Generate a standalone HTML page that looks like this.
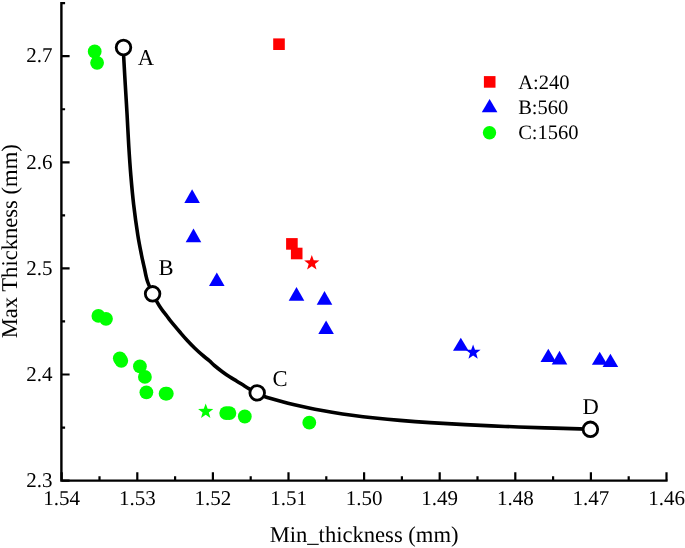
<!DOCTYPE html><html><head><meta charset="utf-8"><style>html,body{margin:0;padding:0;background:#fff;}svg{display:block;text-rendering:geometricPrecision;will-change:transform;font-family:"Liberation Serif",serif;}</style></head><body>
<svg width="685" height="548" viewBox="0 0 685 548">
<rect width="685" height="548" fill="#fff"/>
<path d="M61.4 480.60H69.6M61.4 374.50H69.6M61.4 268.40H69.6M61.4 162.30H69.6M61.4 56.20H69.6M61.4 427.55H65.1M61.4 321.45H65.1M61.4 215.35H65.1M61.4 109.25H65.1M61.4 3.15H65.1M61.70 480.6V472.2M137.30 480.6V472.2M212.90 480.6V472.2M288.50 480.6V472.2M364.10 480.6V472.2M439.70 480.6V472.2M515.30 480.6V472.2M590.90 480.6V472.2M666.50 480.6V472.2M99.50 480.6V476.3M175.10 480.6V476.3M250.70 480.6V476.3M326.30 480.6V476.3M401.90 480.6V476.3M477.50 480.6V476.3M553.10 480.6V476.3M628.70 480.6V476.3" stroke="#000" stroke-width="2.2" fill="none"/>
<path d="M61.4 2.05V480.6H667.60" stroke="#000" stroke-width="2.4" fill="none" stroke-linejoin="miter"/>
<text x="52.4" y="486.80" font-size="21" text-anchor="end">2.3</text>
<text x="52.4" y="380.70" font-size="21" text-anchor="end">2.4</text>
<text x="52.4" y="274.60" font-size="21" text-anchor="end">2.5</text>
<text x="52.4" y="168.50" font-size="21" text-anchor="end">2.6</text>
<text x="52.4" y="62.40" font-size="21" text-anchor="end">2.7</text>
<text x="61.70" y="505.4" font-size="21" text-anchor="middle">1.54</text>
<text x="137.30" y="505.4" font-size="21" text-anchor="middle">1.53</text>
<text x="212.90" y="505.4" font-size="21" text-anchor="middle">1.52</text>
<text x="288.50" y="505.4" font-size="21" text-anchor="middle">1.51</text>
<text x="364.10" y="505.4" font-size="21" text-anchor="middle">1.50</text>
<text x="439.70" y="505.4" font-size="21" text-anchor="middle">1.49</text>
<text x="515.30" y="505.4" font-size="21" text-anchor="middle">1.48</text>
<text x="590.90" y="505.4" font-size="21" text-anchor="middle">1.47</text>
<text x="666.50" y="505.4" font-size="21" text-anchor="middle">1.46</text>
<text x="364.10" y="542.2" font-size="22.6" text-anchor="middle">Min_thickness (mm)</text>
<text transform="translate(16.8 241.3) rotate(-90)" font-size="22.6" text-anchor="middle">Max Thickness (mm)</text>
<circle cx="94.7" cy="51.5" r="6.9" fill="#00ff00"/>
<circle cx="97.1" cy="62.8" r="6.9" fill="#00ff00"/>
<circle cx="98.4" cy="315.9" r="6.9" fill="#00ff00"/>
<circle cx="106" cy="318.8" r="6.9" fill="#00ff00"/>
<circle cx="119.8" cy="358.3" r="6.9" fill="#00ff00"/>
<circle cx="121.3" cy="360.8" r="6.9" fill="#00ff00"/>
<circle cx="139.9" cy="366.4" r="6.9" fill="#00ff00"/>
<circle cx="144.9" cy="376.9" r="6.9" fill="#00ff00"/>
<circle cx="146.4" cy="392.3" r="6.9" fill="#00ff00"/>
<circle cx="165.6" cy="393.7" r="6.9" fill="#00ff00"/>
<circle cx="166.8" cy="393.7" r="6.9" fill="#00ff00"/>
<circle cx="226.2" cy="413.1" r="6.9" fill="#00ff00"/>
<circle cx="229.4" cy="413.1" r="6.9" fill="#00ff00"/>
<circle cx="244.8" cy="416.5" r="6.9" fill="#00ff00"/>
<circle cx="309.3" cy="422.7" r="6.9" fill="#00ff00"/>
<polygon points="205.70,403.50 207.63,408.85 213.31,409.03 208.82,412.51 210.40,417.97 205.70,414.78 201.00,417.97 202.58,412.51 198.09,409.03 203.77,408.85" fill="#00ff00"/>
<polygon points="192.10,189.20 199.90,203.00 184.30,203.00" fill="#0000ff"/>
<polygon points="193.50,228.60 201.30,242.30 185.70,242.30" fill="#0000ff"/>
<polygon points="216.80,272.50 224.60,286.10 209.00,286.10" fill="#0000ff"/>
<polygon points="296.50,287.10 304.30,300.80 288.70,300.80" fill="#0000ff"/>
<polygon points="324.50,290.90 332.30,304.70 316.70,304.70" fill="#0000ff"/>
<polygon points="326.10,320.50 333.90,334.00 318.30,334.00" fill="#0000ff"/>
<polygon points="460.80,337.70 468.60,350.80 453.00,350.80" fill="#0000ff"/>
<polygon points="548.30,348.80 556.10,362.10 540.50,362.10" fill="#0000ff"/>
<polygon points="559.50,350.80 567.30,364.40 551.70,364.40" fill="#0000ff"/>
<polygon points="599.70,351.80 607.50,364.80 591.90,364.80" fill="#0000ff"/>
<polygon points="610.40,353.70 618.20,367.00 602.60,367.00" fill="#0000ff"/>
<polygon points="473.10,344.40 475.00,349.68 480.61,349.86 476.18,353.30 477.74,358.69 473.10,355.54 468.46,358.69 470.02,353.30 465.59,349.86 471.20,349.68" fill="#0000ff"/>
<rect x="273.20" y="38.40" width="11.6" height="11.6" fill="#ff0000"/>
<rect x="286.10" y="238.10" width="11.6" height="11.6" fill="#ff0000"/>
<rect x="290.90" y="247.70" width="11.6" height="11.6" fill="#ff0000"/>
<polygon points="311.80,255.00 313.73,260.35 319.41,260.53 314.92,264.01 316.50,269.47 311.80,266.28 307.10,269.47 308.68,264.01 304.19,260.53 309.87,260.35" fill="#ff0000"/>
<path d="M123.5 47.5C123.53 49.08 123.40 50.75 123.7 57C124.00 63.25 124.73 75.33 125.3 85C125.87 94.67 126.53 105.00 127.1 115C127.67 125.00 128.08 135.00 128.7 145C129.32 155.00 129.97 165.00 130.8 175C131.63 185.00 132.53 195.00 133.7 205C134.87 215.00 136.50 226.67 137.8 235C139.10 243.33 140.63 250.50 141.5 255C142.37 259.50 142.48 259.67 143.0 262C143.52 264.33 144.09 266.67 144.6 269C145.11 271.33 145.53 273.83 146.05 276C146.57 278.17 146.61 279.03 147.7 282C148.79 284.97 151.10 290.57 152.6 293.8C154.10 297.03 155.53 299.33 156.7 301.4C157.87 303.47 158.52 304.55 159.6 306.2C160.68 307.85 161.98 309.67 163.2 311.3C164.42 312.93 165.68 314.40 166.9 316.0C168.12 317.60 168.20 318.07 170.5 320.9C172.80 323.73 177.90 329.73 180.7 333.0C183.50 336.27 184.98 338.00 187.3 340.5C189.62 343.00 192.17 345.63 194.6 348.0C197.03 350.37 199.47 352.58 201.9 354.7C204.33 356.82 207.02 358.82 209.2 360.7C211.38 362.58 212.82 364.17 215 366.0C217.18 367.83 219.87 369.90 222.3 371.7C224.73 373.50 227.17 375.22 229.6 376.8C232.03 378.38 234.47 379.70 236.9 381.2C239.33 382.70 242.13 384.53 244.2 385.8C246.27 387.07 247.13 387.62 249.3 388.8C251.47 389.98 254.75 391.64 257.2 392.9C259.65 394.16 261.87 395.46 264.0 396.35C266.13 397.24 267.67 397.53 270.0 398.23C272.33 398.93 275.00 399.73 278.0 400.56C281.00 401.39 284.33 402.30 288.0 403.22C291.67 404.14 295.50 405.08 300.0 406.08C304.50 407.07 309.67 408.17 315.0 409.19C320.33 410.21 325.83 411.20 332.0 412.2C338.17 413.19 344.83 414.21 352.0 415.16C359.17 416.12 367.00 417.06 375.0 417.93C383.00 418.80 390.83 419.57 400.0 420.35C409.17 421.13 419.17 421.91 430.0 422.63C440.83 423.35 452.50 424.03 465.0 424.67C477.50 425.31 491.67 425.93 505.0 426.46C518.33 426.99 532.50 427.45 545.0 427.85C557.50 428.25 572.43 428.62 580.0 428.86C587.57 429.10 588.67 429.23 590.4 429.3" stroke="#000" stroke-width="3.6" fill="none"/>
<circle cx="123.5" cy="47.5" r="7.3" fill="#fff" stroke="#000" stroke-width="2.8"/>
<circle cx="152.6" cy="293.8" r="7.3" fill="#fff" stroke="#000" stroke-width="2.8"/>
<circle cx="257.2" cy="392.9" r="7.3" fill="#fff" stroke="#000" stroke-width="2.8"/>
<circle cx="590.4" cy="429.3" r="7.3" fill="#fff" stroke="#000" stroke-width="2.8"/>
<text x="137.7" y="65.1" font-size="22.6">A</text>
<text x="158.4" y="274.9" font-size="22.6">B</text>
<text x="272.5" y="385.6" font-size="22.6">C</text>
<text x="582.6" y="413.6" font-size="22.6">D</text>
<rect x="483.90" y="76.10" width="11.6" height="11.6" fill="#ff0000"/>
<polygon points="489.60,98.90 497.40,112.20 481.80,112.20" fill="#0000ff"/>
<circle cx="489.5" cy="132.7" r="6.7" fill="#00ff00"/>
<text x="518.2" y="88.7" font-size="20.5">A:240</text>
<text x="518.2" y="113.7" font-size="20.5">B:560</text>
<text x="518.2" y="139.1" font-size="20.5">C:1560</text>
</svg></body></html>
